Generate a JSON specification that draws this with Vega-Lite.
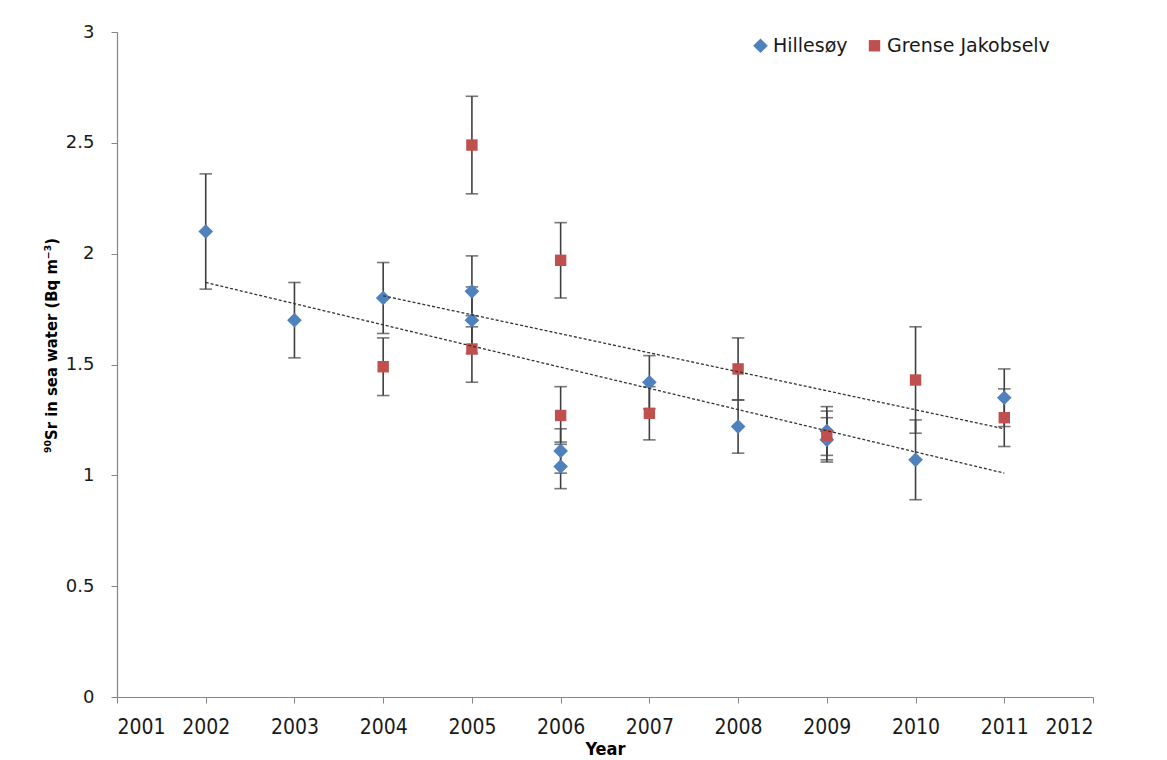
{
  "$schema": "https://vega.github.io/schema/vega-lite/v6.json",
  "width": 976,
  "height": 665,
  "autosize": {"type": "none"},
  "padding": {"left": 117, "top": 32, "right": 74, "bottom": 63},
  "background": "white",
  "config": {
    "view": {"stroke": null},
    "axis": {"grid": false, "domainColor": "#868686", "tickColor": "#868686", "labelColor": "#1a1a1a", "titleColor": "#000000"}
  },
  "datasets": {
    "pts": [
      {"site": "Hillesøy", "year": 2002, "value": 2.10, "lo": 1.84, "hi": 2.36},
      {"site": "Hillesøy", "year": 2003, "value": 1.70, "lo": 1.53, "hi": 1.87},
      {"site": "Hillesøy", "year": 2004, "value": 1.80, "lo": 1.64, "hi": 1.96},
      {"site": "Hillesøy", "year": 2005, "value": 1.83, "lo": 1.67, "hi": 1.99},
      {"site": "Hillesøy", "year": 2005, "value": 1.70, "lo": 1.55, "hi": 1.85},
      {"site": "Hillesøy", "year": 2006, "value": 1.11, "lo": 1.01, "hi": 1.21},
      {"site": "Hillesøy", "year": 2006, "value": 1.04, "lo": 0.94, "hi": 1.14},
      {"site": "Hillesøy", "year": 2007, "value": 1.42, "lo": 1.30, "hi": 1.54},
      {"site": "Hillesøy", "year": 2008, "value": 1.22, "lo": 1.10, "hi": 1.34},
      {"site": "Hillesøy", "year": 2009, "value": 1.20, "lo": 1.09, "hi": 1.31},
      {"site": "Hillesøy", "year": 2009, "value": 1.16, "lo": 1.06, "hi": 1.26},
      {"site": "Hillesøy", "year": 2010, "value": 1.07, "lo": 0.89, "hi": 1.25},
      {"site": "Hillesøy", "year": 2011, "value": 1.35, "lo": 1.22, "hi": 1.48},
      {"site": "Grense Jakobselv", "year": 2004, "value": 1.49, "lo": 1.36, "hi": 1.62},
      {"site": "Grense Jakobselv", "year": 2005, "value": 2.49, "lo": 2.27, "hi": 2.71},
      {"site": "Grense Jakobselv", "year": 2005, "value": 1.57, "lo": 1.42, "hi": 1.72},
      {"site": "Grense Jakobselv", "year": 2006, "value": 1.97, "lo": 1.80, "hi": 2.14},
      {"site": "Grense Jakobselv", "year": 2006, "value": 1.27, "lo": 1.15, "hi": 1.40},
      {"site": "Grense Jakobselv", "year": 2007, "value": 1.28, "lo": 1.16, "hi": 1.40},
      {"site": "Grense Jakobselv", "year": 2008, "value": 1.48, "lo": 1.34, "hi": 1.62},
      {"site": "Grense Jakobselv", "year": 2009, "value": 1.18, "lo": 1.07, "hi": 1.29},
      {"site": "Grense Jakobselv", "year": 2010, "value": 1.43, "lo": 1.19, "hi": 1.67},
      {"site": "Grense Jakobselv", "year": 2011, "value": 1.26, "lo": 1.13, "hi": 1.39}
    ],
    "trend": [
      {"site": "Hillesøy", "year": 2002, "value": 1.87},
      {"site": "Hillesøy", "year": 2011, "value": 1.01},
      {"site": "Grense Jakobselv", "year": 2004, "value": 1.81},
      {"site": "Grense Jakobselv", "year": 2011, "value": 1.21}
    ]
  },
  "encoding": {
    "x": {
      "field": "year", "type": "quantitative",
      "scale": {"domain": [2001, 2012], "nice": false, "zero": false},
      "axis": {
        "values": [2001, 2002, 2003, 2004, 2005, 2006, 2007, 2008, 2009, 2010, 2011, 2012],
        "format": "d", "title": "Year",
        "labelFont": "DejaVu Sans Condensed", "labelFontSize": 21, "labelPadding": 13,
        "titleFont": "DejaVu Sans Condensed", "titleFontSize": 18, "titleFontWeight": "bold", "titlePadding": 3,
        "tickSize": 6, "domainWidth": 1.2
      }
    },
    "y": {
      "field": "value", "type": "quantitative",
      "scale": {"domain": [0, 3], "nice": false},
      "axis": {
        "values": [0, 0.5, 1, 1.5, 2, 2.5, 3],
        "format": "~g",
        "title": "⁹⁰Sr in sea water (Bq m⁻³)",
        "labelFont": "DejaVu Sans", "labelFontSize": 18, "labelPadding": 17,
        "titleFont": "DejaVu Sans Condensed", "titleFontSize": 16.5, "titleFontWeight": "bold", "titlePadding": 6,
        "titleY": 313,
        "tickSize": 6, "domainWidth": 1.2
      }
    }
  },
  "layer": [
    {
      "data": {"name": "pts"},
      "mark": {"type": "rule", "color": "#3f3f3f", "strokeWidth": 1.6},
      "encoding": {"y": {"field": "lo", "type": "quantitative"}, "y2": {"field": "hi"}}
    },
    {
      "data": {"name": "pts"},
      "mark": {"type": "tick", "orient": "horizontal", "color": "#3f3f3f", "size": 12.5, "thickness": 1.6},
      "encoding": {"y": {"field": "lo", "type": "quantitative"}}
    },
    {
      "data": {"name": "pts"},
      "mark": {"type": "tick", "orient": "horizontal", "color": "#3f3f3f", "size": 12.5, "thickness": 1.6},
      "encoding": {"y": {"field": "hi", "type": "quantitative"}}
    },
    {
      "data": {"name": "pts"},
      "mark": {"type": "point", "filled": true, "opacity": 1},
      "encoding": {
        "color": {
          "field": "site", "type": "nominal",
          "scale": {"domain": ["Hillesøy", "Grense Jakobselv"], "range": ["#4F81BD", "#C0504D"]},
          "legend": {
            "title": null, "orient": "none", "direction": "horizontal",
            "legendX": 634, "legendY": 4, "labelLimit": 400,
            "labelFont": "DejaVu Sans", "labelFontSize": 19, "labelColor": "#1a1a1a",
            "symbolSize": 120, "labelOffset": 3, "columnPadding": 17, "padding": 0
          }
        },
        "shape": {
          "field": "site", "type": "nominal",
          "scale": {"domain": ["Hillesøy", "Grense Jakobselv"], "range": ["diamond", "square"]},
          "legend": {
            "title": null, "orient": "none", "direction": "horizontal",
            "legendX": 634, "legendY": 4, "labelLimit": 400,
            "labelFont": "DejaVu Sans", "labelFontSize": 19, "labelColor": "#1a1a1a",
            "symbolSize": 120, "labelOffset": 3, "columnPadding": 17, "padding": 0
          }
        },
        "size": {
          "field": "site", "type": "nominal",
          "scale": {"domain": ["Hillesøy", "Grense Jakobselv"], "range": [215, 130]},
          "legend": null
        }
      }
    },
    {
      "data": {"name": "trend"},
      "mark": {"type": "line", "color": "#333333", "strokeWidth": 1.3, "strokeDash": [3, 2]},
      "encoding": {"detail": {"field": "site", "type": "nominal"}}
    }
  ]
}
